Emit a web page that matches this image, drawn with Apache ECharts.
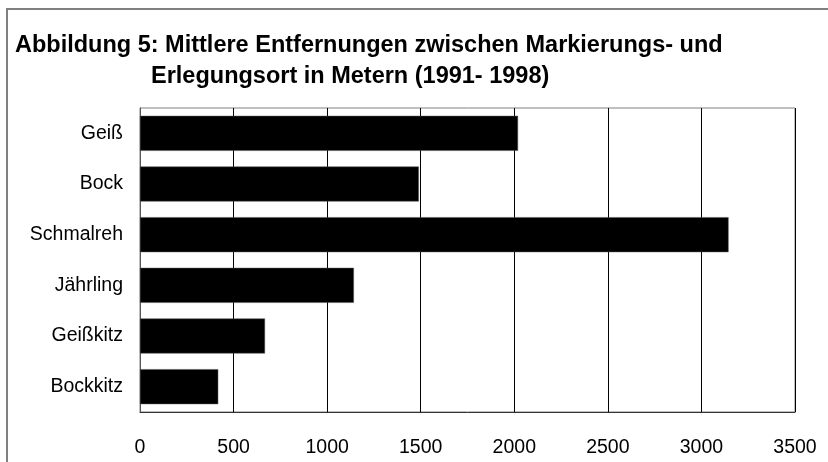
<!DOCTYPE html>
<html>
<head>
<meta charset="utf-8">
<script src="https://cdn.jsdelivr.net/npm/echarts@6/dist/echarts.min.js"></script>
<style>
  html, body { margin: 0; padding: 0; background: #fff; }
  #main { width: 828px; height: 462px; }
</style>
</head>
<body>
<div id="main"></div>
<script>
// Daten: mittlere Entfernungen in Metern
const categories = ['Geiß', 'Bock', 'Schmalreh', 'Jährling', 'Geißkitz', 'Bockkitz'];
const distances = [2020, 1490, 3145, 1143, 668, 418];
const xTicks = [0, 500, 1000, 1500, 2000, 2500, 3000, 3500];

const fontFamily = '"Liberation Sans", Arial, sans-serif';

const myChart = echarts.init(document.getElementById('main'));

const option = {
    backgroundColor: '#fff',
    animation: false,
    title: [
        {
            text: 'Abbildung 5: Mittlere Entfernungen zwischen Markierungs- und',
            left: 10,
            top: 29,
            textStyle: { fontFamily: fontFamily, fontSize: 23.5, fontWeight: 'bold', color: '#000' }
        },
        {
            text: 'Erlegungsort in Metern (1991- 1998)',
            left: 146,
            top: 60,
            textStyle: { fontFamily: fontFamily, fontSize: 23.5, fontWeight: 'bold', color: '#000' }
        }
    ],
    graphic: [
        {
            type: 'rect',
            shape: { x: 7, y: 9, width: 900, height: 500 },
            style: { fill: 'none', stroke: '#808080', lineWidth: 2 },
            silent: true
        }
    ],
    grid: {
        left: 140,
        right: 33,
        top: 108,
        bottom: 50,
        show: true,
        borderColor: '#808080',
        borderWidth: 1
    },
    xAxis: {
        type: 'value',
        min: xTicks[0],
        max: xTicks[xTicks.length - 1],
        interval: 500,
        axisLine: { show: true, lineStyle: { color: '#333', width: 1 } },
        axisTick: { show: false },
        axisLabel: {
            margin: 26,
            fontFamily: fontFamily,
            fontSize: 19.5,
            color: '#000',
            formatter: function (v) { return String(v); }
        },
        splitLine: { show: true, lineStyle: { color: '#000', width: 1 } }
    },
    yAxis: {
        type: 'category',
        data: categories,
        inverse: true,
        axisLine: { show: true, lineStyle: { color: '#555', width: 1 } },
        axisTick: { show: false },
        axisLabel: { margin: 17, fontFamily: fontFamily, fontSize: 19.5, color: '#000' }
    },
    series: [
        {
            name: 'Entfernung',
            type: 'bar',
            data: distances,
            barWidth: 35,
            itemStyle: { color: '#000', borderColor: '#555', borderWidth: 0.5 }
        }
    ]
};
myChart.setOption(option);
</script>
</body>
</html>
